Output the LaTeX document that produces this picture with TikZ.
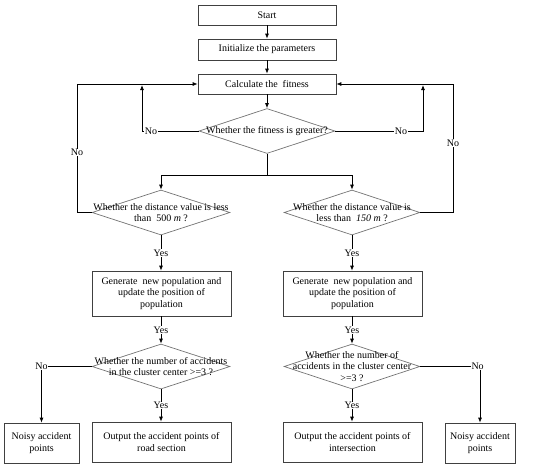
\documentclass[tikz,border=0pt]{standalone}
\usepackage{fontspec}
\setmainfont{Liberation Serif}
\usetikzlibrary{shapes.geometric,arrows.meta}
\begin{document}
\begin{tikzpicture}[x=1pt,y=-1pt,
  font=\fontsize{10}{11.5}\selectfont,
  stepbox/.style={draw=black!75,line width=0.7pt,rectangle,inner sep=1pt,align=center,minimum height=20pt},
  dia/.style={draw=black!55,line width=0.7pt,diamond,inner sep=0pt,minimum height=45pt},
  dtext/.style={align=center,inner sep=0pt},
  arr/.style={line width=0.8pt,-{Latex[length=5pt,width=4pt]}},
  ln/.style={line width=0.8pt},
  lbl/.style={fill=white,inner sep=0.5pt}]
\useasboundingbox (0,0) rectangle (550,467);
% boxes
\node[stepbox,minimum width=138pt] (st) at (267,15) {Start};
\node[stepbox,minimum width=138pt,minimum height=21pt] (in) at (267,49.5) {Initialize the parameters};
\node[stepbox,minimum width=138pt] (ca) at (267,84) {Calculate the\ \ fitness};
% decision fitness
\node[dia,minimum width=136pt] (d1) at (267,131) {};
\node[dtext] (t1) at (d1) {Whether the fitness is greater?};
% distance decisions
\node[dia,minimum width=138pt] (d2) at (161,212.5) {};
\node[dtext] (t2) at (d2) {Whether the distance value is less\\than\ \ 500 \textit{m} ?};
\node[dia,minimum width=136pt] (d3) at (352,212.5) {};
\node[dtext] (t3) at (d3) {Whether the distance value is\\less than\ \ \textit{150 m} ?};
% generate boxes
\node[stepbox,minimum width=139pt,minimum height=45pt] (g1) at (161.5,293.5) {Generate\ \ new population and\\update the position of\\population};
\node[stepbox,minimum width=139pt,minimum height=45pt] (g2) at (352.5,293.5) {Generate\ \ new population and\\update the position of\\population};
% count decisions
\node[dia,minimum width=138pt] (e1) at (161,366.5) {};
\node[dtext] (u1) at (e1) {Whether the number of accidents\\in the cluster center >=3 ?};
\node[dia,minimum width=136pt] (e2) at (352,366.5) {};
\node[dtext] (u2) at (e2) {Whether the number of\\accidents in the cluster center\\>=3 ?};
% outputs
\node[stepbox,minimum width=139pt,minimum height=40pt] (o1) at (161.5,442) {Output the accident points of\\road section};
\node[stepbox,minimum width=139pt,minimum height=40pt] (o2) at (352.5,442) {Output the accident points of\\intersection};
\node[stepbox,minimum width=75pt,minimum height=40pt] (n1) at (41.5,443) {Noisy accident\\points};
\node[stepbox,minimum width=70pt,minimum height=40pt] (n2) at (480,443) {Noisy accident\\points};
% connectors
\draw[arr] (st) -- (in);
\draw[arr] (in) -- (ca);
\draw[arr] (ca) -- (d1.north);
\coordinate (sp) at (267,175);
\draw[ln] (d1.south) -- (sp);
\draw[arr] (sp) -| (d2.north);
\draw[arr] (sp) -| (d3.north);
% fitness No loops
\coordinate (jl) at (142,85);
\coordinate (jr) at (423,85);
\draw[arr] (d1.west) -| node[lbl,pos=0.42]{No} (jl);
\draw[arr] (d1.east) -| node[lbl,pos=0.375]{No} (jr);
% distance No loops
\coordinate (ll) at (77,212.5);
\coordinate (rl) at (453,212.5);
\draw[ln] (d2.west) -- (ll);
\draw[arr] (ll) |- node[lbl,pos=0.234]{No} (ca.west);
\draw[ln] (d3.east) -- (rl);
\draw[arr] (rl) |- node[lbl,pos=0.27]{No} (ca.east);
% yes arrows
\draw[arr] (d2.south) -- node[lbl]{Yes} (g1.north -| d2.south);
\draw[arr] (d3.south) -- node[lbl]{Yes} (g2.north -| d3.south);
\draw[arr] (g1.south -| e1.north) -- node[lbl]{Yes} (e1.north);
\draw[arr] (g2.south -| e2.north) -- node[lbl]{Yes} (e2.north);
\draw[arr] (e1.south) -- node[lbl]{Yes} (o1.north -| e1.south);
\draw[arr] (e2.south) -- node[lbl]{Yes} (o2.north -| e2.south);
% count No
\draw[arr] (e1.west) -| node[lbl,pos=0.5]{No} (n1.north);
\draw[arr] (e2.east) -| node[lbl,pos=0.48]{No} (n2.north);
\end{tikzpicture}
\end{document}
